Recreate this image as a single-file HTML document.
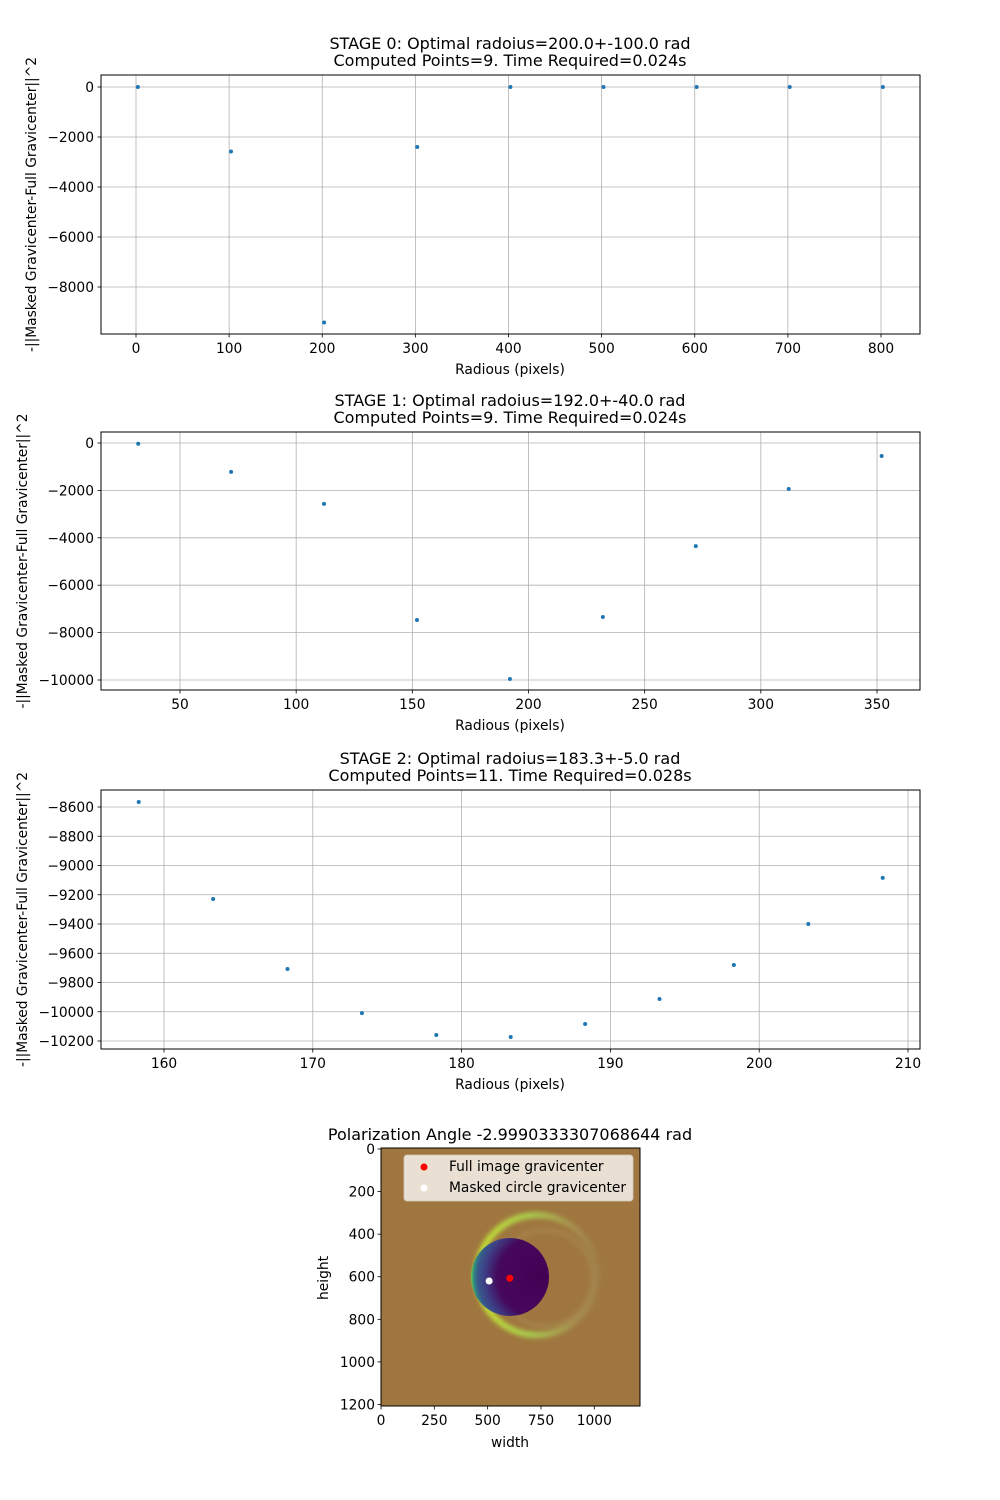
<!DOCTYPE html>
<html><head><meta charset="utf-8"><style>
body{margin:0;background:#fff}
svg{display:block;font-family:"DejaVu Sans","Liberation Sans",sans-serif}
</style></head><body>
<svg id="fig" width="1000" height="1500" viewBox="0 0 1000 1500" xmlns="http://www.w3.org/2000/svg">
<defs>
<radialGradient id="disk" cx="0.85" cy="0.5" r="0.85">
<stop offset="0" stop-color="#440154"/><stop offset="0.6" stop-color="#46085c"/><stop offset="0.8" stop-color="#3d3f85"/><stop offset="0.9" stop-color="#38588c"/><stop offset="0.96" stop-color="#2f8a80"/><stop offset="1" stop-color="#6cc850"/>
</radialGradient>
<linearGradient id="ringg" x1="0" y1="0" x2="1" y2="0">
<stop offset="0" stop-color="#c8e630"/><stop offset="0.45" stop-color="#a8d050"/><stop offset="0.8" stop-color="#a89050"/><stop offset="1" stop-color="#a08048"/>
</linearGradient>
<filter id="blur"><feGaussianBlur stdDeviation="2.5"/></filter>
<clipPath id="imgclip"><rect x="381" y="1148" width="259" height="258"/></clipPath>
</defs>
</svg>
<script>
// Stage 0 data
const s0x = [2,102,202,302,402,502,602,702,802];
const s0y = [0,-2580,-9420,-2400,0,0,0,0,0];
const s0xt = [0,100,200,300,400,500,600,700,800];
const s0yt = [0,-2000,-4000,-6000,-8000];
// Stage 1 data
const s1x = [32,72,112,152,192,232,272,312,352];
const s1y = [-30,-1220,-2570,-7470,-9960,-7340,-4350,-1940,-550];
const s1xt = [50,100,150,200,250,300,350];
const s1yt = [0,-2000,-4000,-6000,-8000,-10000];
// Stage 2 data
const s2x = [158.3,163.3,168.3,173.3,178.3,183.3,188.3,193.3,198.3,203.3,208.3];
const s2y = [-8566,-9229,-9708,-10009,-10159,-10173,-10084,-9913,-9680,-9400,-9085];
const s2xt = [160,170,180,190,200,210];
const s2yt = [-8600,-8800,-9000,-9200,-9400,-9600,-9800,-10000,-10200];
// image gravicenters
const fullG = [604,607];
const maskG = [507,620];
const imgXt = [0,250,500,750,1000];
const imgYt = [0,200,400,600,800,1000,1200];

const FS=13.8, TS=16;
const svg = document.getElementById('fig');
const NS = 'http://www.w3.org/2000/svg';
function mk(tag, attrs, parent){const e=document.createElementNS(NS,tag);for(const k in attrs)e.setAttribute(k,attrs[k]);(parent||svg).appendChild(e);return e;}
function txt(s,attrs,parent){const e=mk('text',attrs,parent);e.textContent=s;return e;}
const fmt = v => (v<0?'\u2212':'')+Math.abs(v);

function panel(id, top, bottom, x0v, x0p, x1v, x1p, y0v, y0p, y1v, y1p, xs, ys, xt, yt, t1, t2, ylx){
  const L=101,R=920;
  const sx=v=>x0p+(v-x0v)*(x1p-x0p)/(x1v-x0v);
  const sy=v=>y0p+(v-y0v)*(y1p-y0p)/(y1v-y0v);
  const g=mk('g',{});
  
  
  xt.forEach(v=>{const x=sx(v);
    const l=mk('line',{x1:x,x2:x,y1:top,y2:bottom,stroke:'#b0b0b0','stroke-width':0.8},g);
    
    mk('line',{x1:x,x2:x,y1:bottom,y2:bottom+3.5,stroke:'#000','stroke-width':0.8},g);
    const t=txt(String(v),{x:x,y:bottom+19,'font-size':FS,'text-anchor':'middle'},g);
    });
  yt.forEach(v=>{const y=sy(v);
    const l=mk('line',{x1:L,x2:R,y1:y,y2:y,stroke:'#b0b0b0','stroke-width':0.8},g);
    
    mk('line',{x1:L-3.5,x2:L,y1:y,y2:y,stroke:'#000','stroke-width':0.8},g);
    const t=txt(fmt(v),{x:L-7,y:y+5,'font-size':FS,'text-anchor':'end'},g);
    });
  xs.forEach((v,i)=>{const c=mk('circle',{cx:sx(v),cy:sy(ys[i]),r:2,fill:'#1f77b4'},g);
    });
  const f=mk('rect',{x:L,y:top,width:R-L,height:bottom-top,fill:'none',stroke:'#000','stroke-width':1},g);
  
  let t=txt(t1,{x:510,y:top-26,'font-size':TS,'text-anchor':'middle'},g);
  
  t=txt(t2,{x:510,y:top-9,'font-size':TS,'text-anchor':'middle'},g);
  
  t=txt('Radious (pixels)',{x:510,y:bottom+40,'font-size':FS,'text-anchor':'middle'},g);
  
  const cy=(top+bottom)/2;
  t=txt('-||Masked Gravicenter-Full Gravicenter||^2',{x:ylx,y:cy,'font-size':FS,'text-anchor':'middle',transform:`rotate(-90 ${ylx} ${cy})`},g);
  
}
panel('stage0-chart',75,334,0,136,800,881,0,87,-8000,287,s0x,s0y,s0xt,s0yt,'STAGE 0: Optimal radoius=200.0+-100.0 rad','Computed Points=9. Time Required=0.024s',36);
panel('stage1-chart',432,690,50,180,350,877,0,443,-10000,680,s1x,s1y,s1xt,s1yt,'STAGE 1: Optimal radoius=192.0+-40.0 rad','Computed Points=9. Time Required=0.024s',27);
panel('stage2-chart',790,1049,160,164,210,908,-8600,807,-10200,1041,s2x,s2y,s2xt,s2yt,'STAGE 2: Optimal radoius=183.3+-5.0 rad','Computed Points=11. Time Required=0.028s',27);

// image panel
const IL=381,IR=640,IT=1148,IB=1406;
const ix=v=>IL+v*0.2133, iy=v=>IT+1+v*0.2129;
const ig=mk('g',{});


const art=mk('g',{'clip-path':'url(#imgclip)'},ig);
mk('rect',{x:IL,y:IT,width:IR-IL,height:IB-IT,fill:'#9f763f'},art);
const ring=mk('g',{filter:'url(#blur)'},art);
mk('circle',{cx:537,cy:1275,r:60,fill:'none',stroke:'url(#ringg)','stroke-width':6},ring);
mk('circle',{cx:545,cy:1278,r:48,fill:'none',stroke:'#a99055','stroke-width':3,opacity:0.7},ring);
mk('circle',{cx:510,cy:1277,r:39,fill:'url(#disk)'},art);
const fg=mk('circle',{cx:ix(fullG[0]),cy:iy(fullG[1]),r:3.5,fill:'#ff0000'},ig);

const mg=mk('circle',{cx:ix(maskG[0]),cy:iy(maskG[1]),r:3.5,fill:'#ffffff'},ig);

mk('rect',{x:IL,y:IT,width:IR-IL,height:IB-IT,fill:'none',stroke:'#000','stroke-width':1},ig);
imgXt.forEach(v=>{const x=ix(v);mk('line',{x1:x,x2:x,y1:IB,y2:IB+3.5,stroke:'#000','stroke-width':0.8},ig);
  const t=txt(String(v),{x:x,y:IB+19,'font-size':FS,'text-anchor':'middle'},ig);
  });
imgYt.forEach(v=>{const y=iy(v);mk('line',{x1:IL-3.5,x2:IL,y1:y,y2:y,stroke:'#000','stroke-width':0.8},ig);
  const t=txt(String(v),{x:IL-6,y:y+5,'font-size':FS,'text-anchor':'end'},ig);
  });
let tt=txt('Polarization Angle -2.9990333307068644 rad',{x:510,y:1140,'font-size':TS,'text-anchor':'middle'},ig);

tt=txt('width',{x:510,y:1447,'font-size':FS,'text-anchor':'middle'},ig);

tt=txt('height',{x:328,y:1278,'font-size':FS,'text-anchor':'middle',transform:'rotate(-90 328 1278)'},ig);

const lg=mk('g',{},ig);


mk('rect',{x:404,y:1155,width:229,height:46,rx:3,fill:'#f0e9e0',opacity:0.92,stroke:'#d8d0c4','stroke-width':0.8},lg);
mk('circle',{cx:424,cy:1167,r:3.5,fill:'#ff0000'},lg);
mk('circle',{cx:424,cy:1188,r:3.5,fill:'#ffffff'},lg);
tt=txt('Full image gravicenter',{x:449,y:1171,'font-size':FS},lg);

tt=txt('Masked circle gravicenter',{x:449,y:1192,'font-size':FS},lg);

</script>
</body></html>
